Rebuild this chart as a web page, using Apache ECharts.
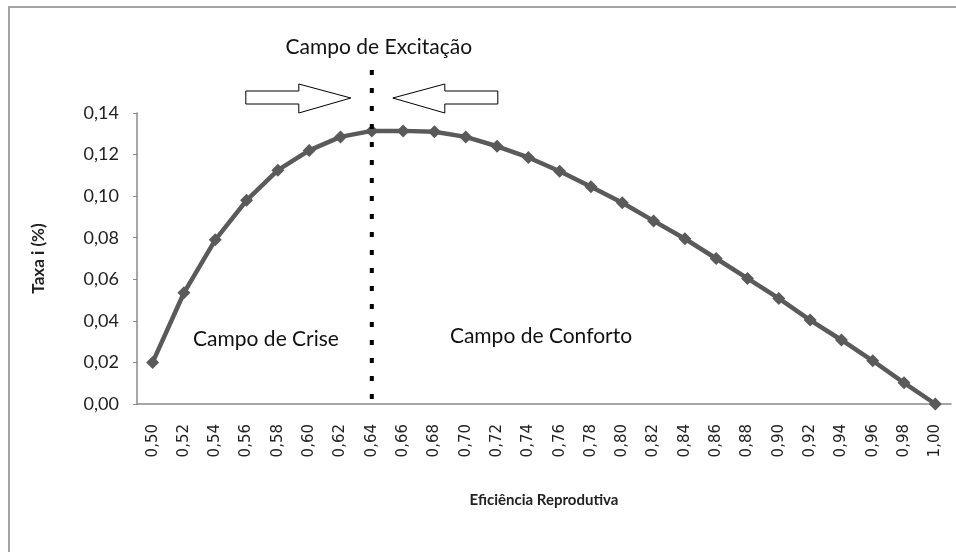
<!DOCTYPE html>
<html>
<head>
<meta charset="utf-8">
<script src="https://cdn.jsdelivr.net/npm/echarts@6/dist/echarts.min.js"></script>
<style>
  html, body { margin: 0; padding: 0; background: #fff; }
  #chart { width: 956px; height: 552px; }
</style>
</head>
<body>
<div id="chart"></div>
<script>
// eficiência reprodutiva (eixo x)
const EFICIENCIA = [0.50, 0.52, 0.54, 0.56, 0.58, 0.60, 0.62, 0.64, 0.66, 0.68, 0.70, 0.72, 0.74,
  0.76, 0.78, 0.80, 0.82, 0.84, 0.86, 0.88, 0.90, 0.92, 0.94, 0.96, 0.98, 1.00]
// taxa i (%)
const TAXA = [0.020, 0.0535, 0.079, 0.098, 0.1125, 0.122, 0.1285, 0.1314, 0.1314, 0.131, 0.1285,
  0.124, 0.1186, 0.112, 0.1045, 0.0968, 0.0881, 0.0795, 0.070, 0.0604, 0.0508, 0.0404, 0.0308,
  0.0208, 0.0102, 0.000]
const Y_TICKS = { min: 0, max: 0.14, interval: 0.02 }
const EXCITACAO = 0.64
const TXT_FONT = 'Lato, "Open Sans", sans-serif'

const fmt = (v) => Number(v).toFixed(2).replace('.', ',')

const chart = echarts.init(document.getElementById('chart'))

chart.setOption({
  animation: false,
  grid: { left: 137, right: 5, top: 113, bottom: 148, containLabel: false },
  xAxis: {
    type: 'category',
    data: EFICIENCIA.map(fmt),
    boundaryGap: true,
    axisLine: { lineStyle: { color: '#8a8a8a', width: 1.5 } },
    axisTick: { show: false },
    axisLabel: {
      rotate: 90,
      margin: 20,
      color: '#222',
      fontFamily: '"DejaVu Sans", Verdana, sans-serif',
      fontSize: 15,
      interval: 0,
    },
    name: 'Eficiência Reprodutiva',
    nameLocation: 'middle',
    nameGap: 89,
    nameTextStyle: { color: '#222', fontWeight: 'bold', fontSize: 15, fontFamily: TXT_FONT },
  },
  yAxis: {
    type: 'value',
    ...Y_TICKS,
    axisLine: { show: true, lineStyle: { color: '#8a8a8a', width: 1.5 } },
    axisTick: { show: true, length: 4, lineStyle: { color: '#8a8a8a' } },
    splitLine: { show: false },
    axisLabel: { formatter: fmt, color: '#222', fontSize: 18, margin: 18, fontFamily: TXT_FONT },
    name: 'Taxa i (%)',
    nameLocation: 'middle',
    nameGap: 90,
    nameRotate: 90,
    nameTextStyle: { color: '#222', fontWeight: 'bold', fontSize: 17, fontFamily: TXT_FONT },
  },
  series: [
    {
      type: 'line',
      data: TAXA,
      symbol: 'diamond',
      symbolSize: 13,
      lineStyle: { color: '#5a5a5a', width: 4.5 },
      itemStyle: { color: '#5a5a5a' },
      z: 3,
    },
  ],
})

// anotações: linha pontilhada, setas e textos
const xEx = chart.convertToPixel({ xAxisIndex: 0 }, fmt(EXCITACAO))
const yBottom = chart.convertToPixel({ yAxisIndex: 0 }, 0)

function arrow(dir) {
  // dir = 1 aponta para a direita, -1 para a esquerda
  const tip = xEx - dir * 21
  const base = tip - dir * 52
  const end = base - dir * 53
  return [[end, 91], [base, 91], [base, 84], [tip, 98], [base, 113], [base, 104], [end, 104]]
}

const label = (text, x, y) => ({
  type: 'text',
  x,
  y,
  style: { text, fontSize: 21, fontFamily: TXT_FONT, fill: '#111', align: 'center', verticalAlign: 'middle' },
})

chart.setOption({
  graphic: [
    {
      type: 'rect',
      shape: { x: 9, y: 7, width: 980, height: 600 },
      style: { fill: 'none', stroke: '#a3a3a3', lineWidth: 2 },
      silent: true,
    },
    {
      type: 'line',
      shape: { x1: xEx, y1: 70, x2: xEx, y2: yBottom },
      style: { stroke: '#000', lineWidth: 4, lineDash: [5, 13] },
      z: 10,
    },
    {
      type: 'polygon',
      shape: { points: arrow(1) },
      style: { fill: '#fff', stroke: '#000', lineWidth: 1 },
    },
    {
      type: 'polygon',
      shape: { points: arrow(-1) },
      style: { fill: '#fff', stroke: '#000', lineWidth: 1 },
    },
    label('Campo de Excitação', xEx + 7, 47),
    label('Campo de Crise', 266, 339),
    label('Campo de Conforto', 541, 336),
  ],
})
</script>
</body>
</html>
